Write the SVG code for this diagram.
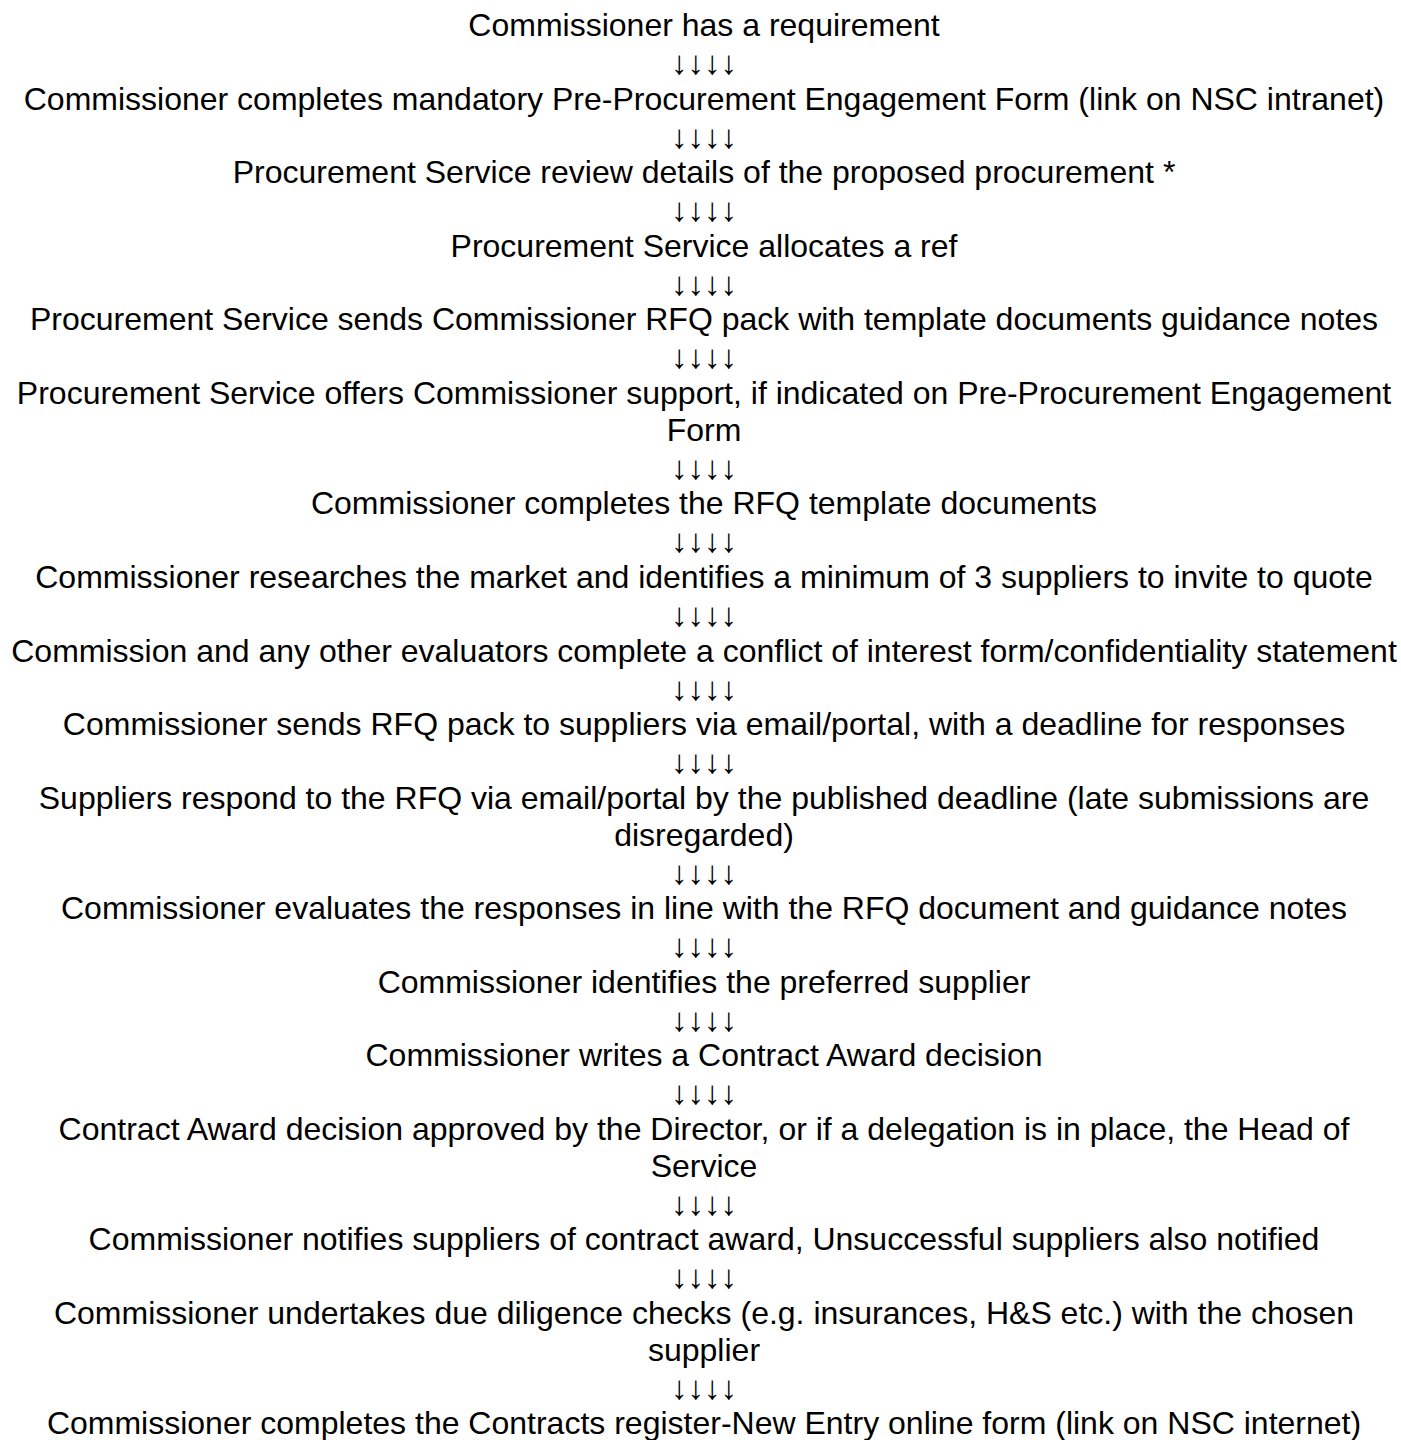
<svg xmlns="http://www.w3.org/2000/svg" width="1401" height="1440" viewBox="0 0 1401 1440">
<style>
text{font-family:"Liberation Sans",Arial,sans-serif;font-size:32px;fill:#000;text-anchor:middle}
.arr{font-size:33px}
</style>
<rect width="1401" height="1440" fill="#fff"/>
<g id="nodes">
<g id="n1"><text x="704" y="36">Commissioner has a requirement</text></g>
<g id="n2"><text x="704" y="109.6">Commissioner completes mandatory Pre-Procurement Engagement Form (link on NSC intranet)</text></g>
<g id="n3"><text x="704" y="183.2">Procurement Service review details of the proposed procurement *</text></g>
<g id="n4"><text x="704" y="256.8">Procurement Service allocates a ref</text></g>
<g id="n5"><text x="704" y="330.4">Procurement Service sends Commissioner RFQ pack with template documents guidance notes</text></g>
<g id="n6"><text x="704" y="404">Procurement Service offers Commissioner support, if indicated on Pre-Procurement Engagement</text><text x="704" y="440.8">Form</text></g>
<g id="n7"><text x="704" y="514.4">Commissioner completes the RFQ template documents</text></g>
<g id="n8"><text x="704" y="588">Commissioner researches the market and identifies a minimum of 3 suppliers to invite to quote</text></g>
<g id="n9"><text x="704" y="661.6">Commission and any other evaluators complete a conflict of interest form/confidentiality statement</text></g>
<g id="n10"><text x="704" y="735.2">Commissioner sends RFQ pack to suppliers via email/portal, with a deadline for responses</text></g>
<g id="n11"><text x="704" y="808.8">Suppliers respond to the RFQ via email/portal by the published deadline (late submissions are</text><text x="704" y="845.6">disregarded)</text></g>
<g id="n12"><text x="704" y="919.2">Commissioner evaluates the responses in line with the RFQ document and guidance notes</text></g>
<g id="n13"><text x="704" y="992.8">Commissioner identifies the preferred supplier</text></g>
<g id="n14"><text x="704" y="1066.4">Commissioner writes a Contract Award decision</text></g>
<g id="n15"><text x="704" y="1140">Contract Award decision approved by the Director, or if a delegation is in place, the Head of</text><text x="704" y="1176.8">Service</text></g>
<g id="n16"><text x="704" y="1250.4">Commissioner notifies suppliers of contract award, Unsuccessful suppliers also notified</text></g>
<g id="n17"><text x="704" y="1324">Commissioner undertakes due diligence checks (e.g. insurances, H&amp;S etc.) with the chosen</text><text x="704" y="1360.8">supplier</text></g>
<g id="n18"><text x="704" y="1434.4">Commissioner completes the Contracts register-New Entry online form (link on NSC internet)</text></g>
</g>
<g id="connectors">
<text class="arr" x="704" y="74">↓↓↓↓</text>
<text class="arr" x="704" y="147.6">↓↓↓↓</text>
<text class="arr" x="704" y="221.2">↓↓↓↓</text>
<text class="arr" x="704" y="294.8">↓↓↓↓</text>
<text class="arr" x="704" y="368.4">↓↓↓↓</text>
<text class="arr" x="704" y="478.8">↓↓↓↓</text>
<text class="arr" x="704" y="552.4">↓↓↓↓</text>
<text class="arr" x="704" y="626">↓↓↓↓</text>
<text class="arr" x="704" y="699.6">↓↓↓↓</text>
<text class="arr" x="704" y="773.2">↓↓↓↓</text>
<text class="arr" x="704" y="883.6">↓↓↓↓</text>
<text class="arr" x="704" y="957.2">↓↓↓↓</text>
<text class="arr" x="704" y="1030.8">↓↓↓↓</text>
<text class="arr" x="704" y="1104.4">↓↓↓↓</text>
<text class="arr" x="704" y="1214.8">↓↓↓↓</text>
<text class="arr" x="704" y="1288.4">↓↓↓↓</text>
<text class="arr" x="704" y="1398.8">↓↓↓↓</text>
</g>
</svg>
